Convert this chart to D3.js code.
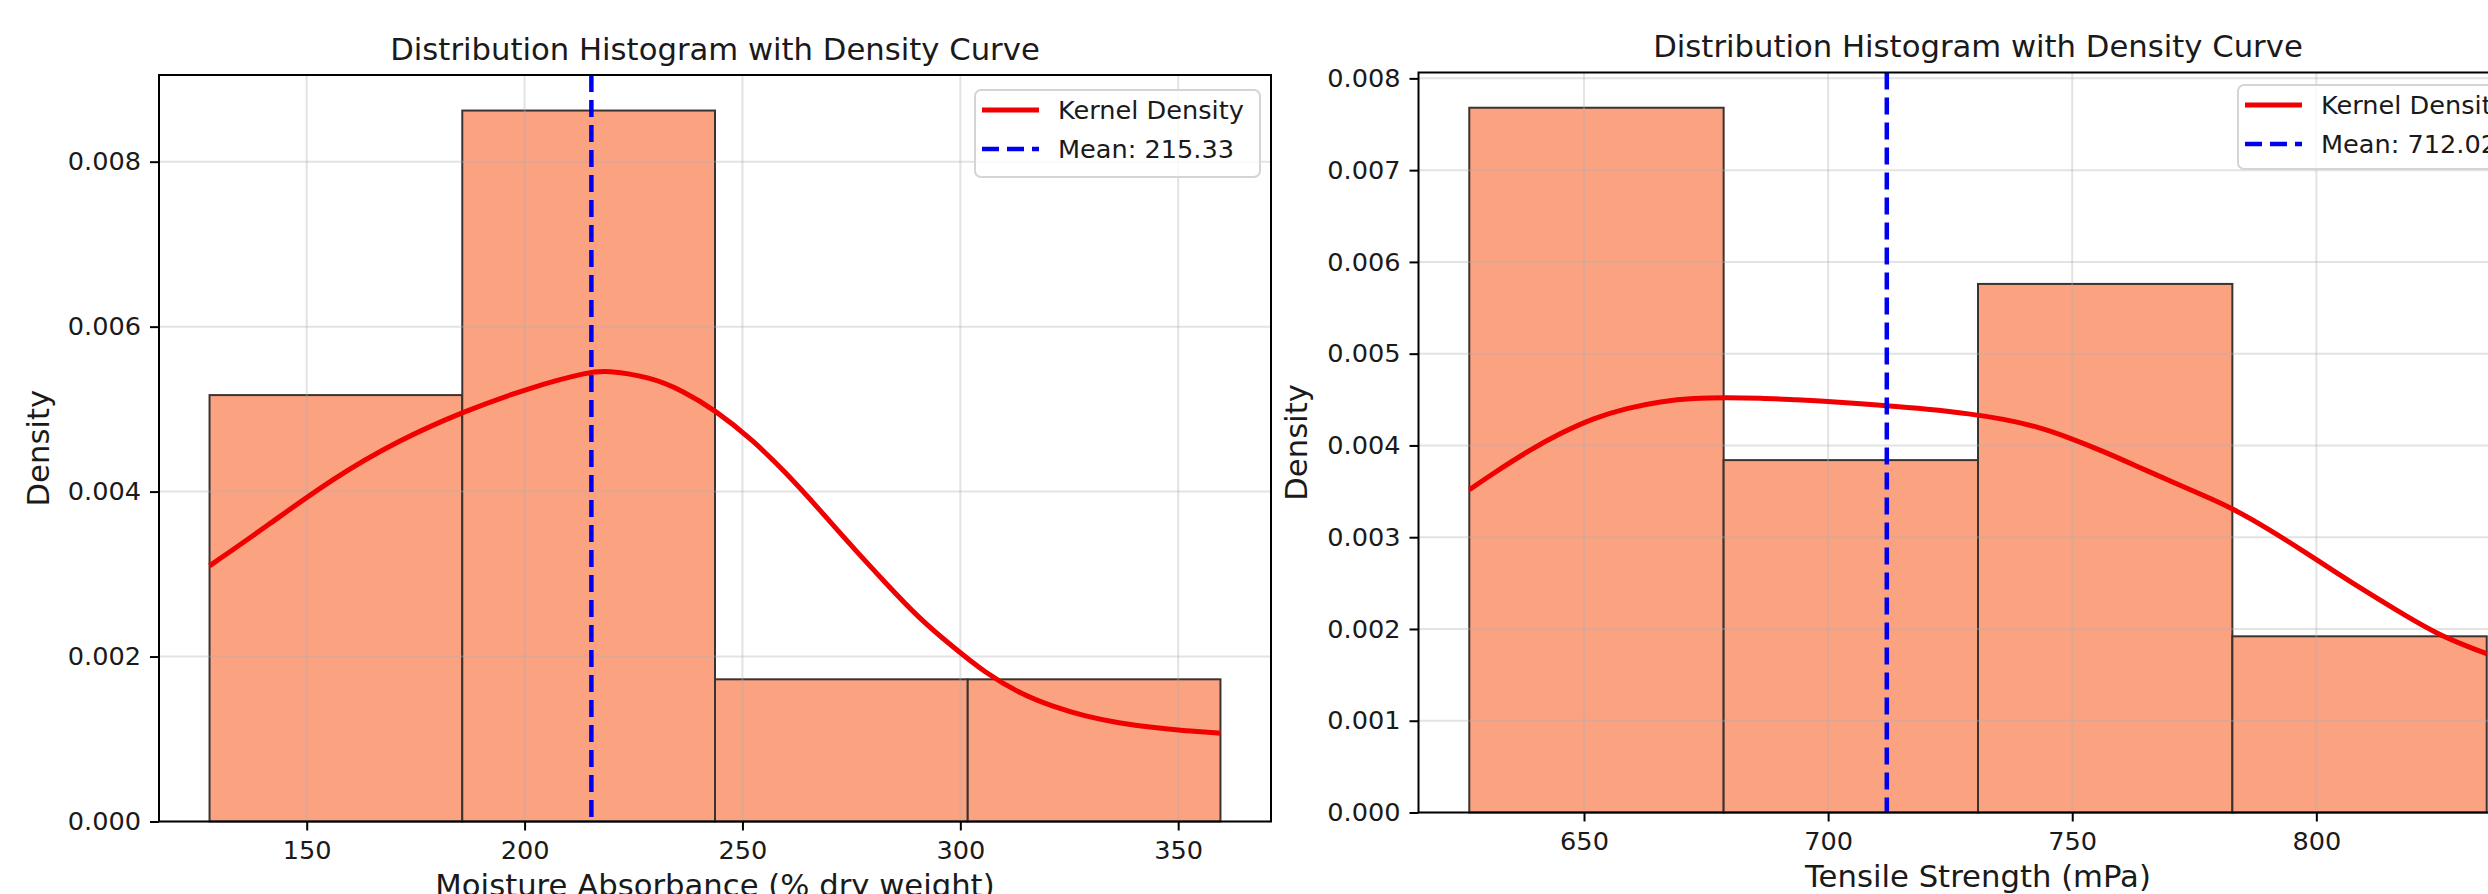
<!DOCTYPE html>
<html>
<head>
<meta charset="utf-8">
<script src="https://cdn.jsdelivr.net/npm/d3@7"></script>
<style>
  html, body { margin: 0; padding: 0; background: #fff; overflow: hidden; }
  svg { display: block; font-family: "DejaVu Sans", sans-serif; }
</style>
</head>
<body>
<div id="chart"></div>
<script>
// Left panel data (moisture absorbance)
const moistureBinEdges = [127.7, 185.7, 243.7, 301.7, 359.7];
const moistureDensity = [0.00517, 0.00862, 0.001724, 0.001724];
const moistureKdeX = [127.7, 140.7, 156.0, 171.3, 185.9, 201.8, 215.2, 218.7, 228.6, 236.2, 243.9,
  252.3, 260.0, 267.6, 275.2, 282.9, 290.5, 298.2, 305.8, 313.5, 321.1, 328.8, 336.4, 344.0, 351.7, 359.7];
const moistureKdeY = [0.00310, 0.003576, 0.004162, 0.004627, 0.00497, 0.005273, 0.005455, 0.005467, 0.005394,
  0.005227, 0.004981, 0.004628, 0.004228, 0.003787, 0.003331, 0.00289, 0.002465, 0.002121, 0.001799, 0.001556,
  0.001394, 0.001273, 0.001193, 0.001139, 0.0011, 0.00107];
const moistureMean = 215.33;
const moistureTicksX = [150, 200, 250, 300, 350];
const moistureTicksY = [0, 0.002, 0.004, 0.006, 0.008];

// Right panel data (tensile strength)
const tensileBinEdges = [626.5, 678.6, 730.7, 782.8, 834.9];
const tensileDensity = [0.00768, 0.00384, 0.00576, 0.00192];
const tensileKdeX = [626.5, 631.5, 638.4, 645.2, 652.0, 658.8, 665.7, 672.5, 679.3, 686.1, 692.9, 699.8,
  712.1, 720.2, 729.1, 735.9, 742.8, 749.6, 756.4, 763.2, 770.1, 776.9, 783.0, 790.5, 797.3, 804.2, 811.0,
  817.8, 824.6, 831.4, 834.9];
const tensileKdeY = [0.003517, 0.003699, 0.003935, 0.004135, 0.004299, 0.004408, 0.00448, 0.004517, 0.004523,
  0.004517, 0.004498, 0.00448, 0.004433, 0.004397, 0.004345, 0.004288, 0.004207, 0.004081, 0.003935, 0.003775,
  0.003610, 0.003455, 0.00331, 0.00308, 0.00285, 0.00261, 0.00238, 0.00216, 0.00195, 0.00180, 0.00173];
const tensileMean = 712.02;
const tensileTicksX = [650, 700, 750, 800];
const tensileTicksY = [0, 0.001, 0.002, 0.003, 0.004, 0.005, 0.006, 0.007, 0.008];

const TITLE = "Distribution Histogram with Density Curve";
const TICK_FONT = 25.6;
const LABEL_FONT = 30.7;

const svg = d3.select("#chart")
  .append("svg")
  .attr("width", 2488)
  .attr("height", 894);

svg.append("rect").attr("width", 2488).attr("height", 894).attr("fill", "#fff");

const panels = [
  {
    id: "moist",
    edges: moistureBinEdges, density: moistureDensity,
    kdeX: moistureKdeX, kdeY: moistureKdeY, mean: moistureMean,
    ticksX: moistureTicksX, ticksY: moistureTicksY,
    xDomain: [116.1, 371.3],
    left: 159, right: 1271, top: 75, bottom: 821.5,
    xlabel: "Moisture Absorbance (% dry weight)",
    ylabelX: 49,
    legend: {x: 975, y: 90, w: 285, h: 87}
  },
  {
    id: "tens",
    edges: tensileBinEdges, density: tensileDensity,
    kdeX: tensileKdeX, kdeY: tensileKdeY, mean: tensileMean,
    ticksX: tensileTicksX, ticksY: tensileTicksY,
    xDomain: [616.1, 845.3],
    left: 1418.5, right: 2537.5, top: 72.5, bottom: 812.5,
    xlabel: "Tensile Strength (mPa)",
    ylabelX: 1307,
    legend: {x: 2238, y: 85, w: 287, h: 84}
  }
];

panels.forEach(drawPanel);

function drawPanel(p) {
  const x = d3.scaleLinear().domain(p.xDomain).range([p.left, p.right]);
  const y = d3.scaleLinear()
    .domain([0, d3.max(p.density) * 1.05])
    .range([p.bottom, p.top]);

  const g = svg.append("g");

  svg.append("clipPath").attr("id", "clip-" + p.id)
    .append("rect")
    .attr("x", p.left).attr("y", p.top)
    .attr("width", p.right - p.left).attr("height", p.bottom - p.top);

  // bars
  const bins = p.density.map((d, i) => ({x0: p.edges[i], x1: p.edges[i + 1], v: d}));
  g.append("g").selectAll("rect")
    .data(bins)
    .enter().append("rect")
    .attr("x", d => x(d.x0))
    .attr("y", d => y(d.v))
    .attr("width", d => x(d.x1) - x(d.x0))
    .attr("height", d => y(0) - y(d.v))
    .attr("fill", "#FBA281")
    .attr("stroke", "#3b3330")
    .attr("stroke-width", 2);

  // grid (drawn over the bars, like matplotlib's default)
  const grid = g.append("g").attr("stroke", "#b0b0b0").attr("stroke-opacity", 0.35).attr("stroke-width", 2);
  grid.selectAll(".gx").data(p.ticksX).enter().append("line")
    .attr("x1", d => x(d)).attr("x2", d => x(d))
    .attr("y1", p.top).attr("y2", p.bottom);
  grid.selectAll(".gy").data(p.ticksY).enter().append("line")
    .attr("x1", p.left).attr("x2", p.right)
    .attr("y1", d => y(d)).attr("y2", d => y(d));

  // kde curve
  const pts = p.kdeX.map((v, i) => [v, p.kdeY[i]]);
  const line = d3.line()
    .x(d => x(d[0]))
    .y(d => y(d[1]))
    .curve(d3.curveBasis);
  g.append("path")
    .attr("clip-path", "url(#clip-" + p.id + ")")
    .attr("d", line(pts))
    .attr("fill", "none")
    .attr("stroke", "#f00000")
    .attr("stroke-width", 5);

  // mean line
  g.append("line")
    .attr("x1", x(p.mean)).attr("x2", x(p.mean))
    .attr("y1", p.top).attr("y2", p.bottom)
    .attr("stroke", "#0000ee")
    .attr("stroke-width", 4.5)
    .attr("stroke-dasharray", "17,8");

  // axes
  const xAxis = d3.axisBottom(x).tickValues(p.ticksX).tickSize(9).tickPadding(10).tickFormat(d3.format("d"));
  const yAxis = d3.axisLeft(y).tickValues(p.ticksY).tickSize(9).tickPadding(9).tickFormat(d3.format(".3f"));

  const xg = g.append("g").attr("transform", "translate(0," + p.bottom + ")").call(xAxis);
  const yg = g.append("g").attr("transform", "translate(" + p.left + ",0)").call(yAxis);
  [xg, yg].forEach(a => {
    a.select(".domain").remove();
    a.selectAll("line").attr("stroke", "#000").attr("stroke-width", 2);
    a.selectAll("text")
      .attr("fill", "#1a1a1a")
      .style("font-size", TICK_FONT + "px")
      .style("font-family", "DejaVu Sans");
  });

  // spines
  g.append("rect")
    .attr("x", p.left).attr("y", p.top)
    .attr("width", p.right - p.left).attr("height", p.bottom - p.top)
    .attr("fill", "none")
    .attr("stroke", "#000")
    .attr("stroke-width", 2);

  // titles and labels
  const cx = (p.left + p.right) / 2;
  g.append("text")
    .attr("x", cx).attr("y", p.top - 15.5)
    .attr("text-anchor", "middle")
    .attr("fill", "#1a1a1a")
    .style("font-size", LABEL_FONT + "px")
    .text(TITLE);

  g.append("text")
    .attr("x", cx).attr("y", p.bottom + 74.5)
    .attr("text-anchor", "middle")
    .attr("fill", "#1a1a1a")
    .style("font-size", LABEL_FONT + "px")
    .text(p.xlabel);

  g.append("text")
    .attr("transform", "translate(" + p.ylabelX + "," + (p.top + p.bottom) / 2 + ")rotate(-90)")
    .attr("text-anchor", "middle")
    .attr("fill", "#1a1a1a")
    .style("font-size", LABEL_FONT + "px")
    .text("Density");

  // legend
  const L = p.legend;
  const lg = g.append("g").attr("transform", "translate(" + L.x + "," + L.y + ")");
  lg.append("rect")
    .attr("width", L.w).attr("height", L.h)
    .attr("rx", 6)
    .attr("fill", "#fff").attr("fill-opacity", 0.8)
    .attr("stroke", "#d4d4d4").attr("stroke-width", 2);
  const items = [
    {label: "Kernel Density", color: "#f00000", dash: null, w: 5},
    {label: "Mean: " + p.mean.toFixed(2), color: "#0000ee", dash: "17,8", w: 4.5}
  ];
  items.forEach((it, i) => {
    const cy = 20 + i * 39;
    lg.append("line")
      .attr("x1", 7).attr("x2", 64)
      .attr("y1", cy).attr("y2", cy)
      .attr("stroke", it.color)
      .attr("stroke-width", it.w)
      .attr("stroke-dasharray", it.dash);
    lg.append("text")
      .attr("x", 83).attr("y", cy + 9)
      .attr("fill", "#1a1a1a")
      .style("font-size", TICK_FONT + "px")
      .text(it.label);
  });
}
</script>
</body>
</html>
